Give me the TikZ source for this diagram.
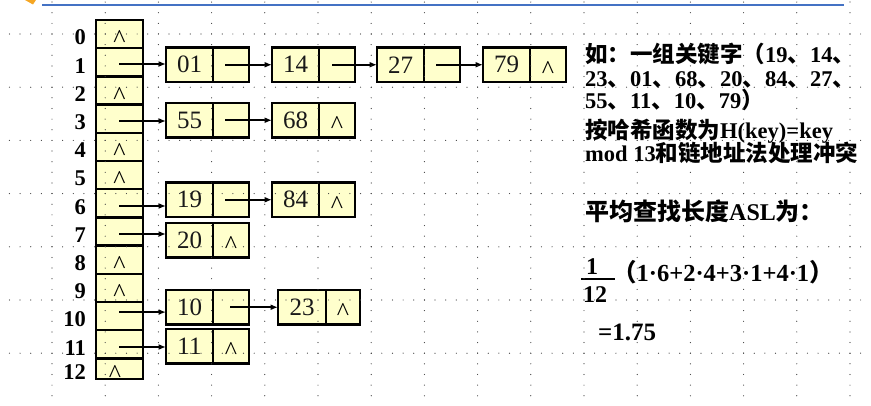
\documentclass[tikz,border=0pt]{standalone}
\usepackage{fontspec}
\setmainfont{Liberation Serif}
\newfontfamily\cjk{Noto Sans CJK SC}
\usetikzlibrary{arrows.meta}
\definecolor{cellfill}{HTML}{FFFFCC}
\definecolor{slideblue}{HTML}{4472C4}
\definecolor{slideorange}{HTML}{F5A623}
\newcommand\zh[1]{{\cjk\bfseries #1}}
\newcommand\lnode[4]{%
  \node[kbox, anchor=north west] (#1k) at (#2,#3) {#4};
  \node[pbox, anchor=north west] (#1p) at (#2+47,#3) {};}
\newcommand\lnodeB[4]{%
  \node[kbox, anchor=north west, minimum width=48pt] (#1k) at (#2,#3) {#4};
  \node[pbox, anchor=north west, minimum width=34pt] (#1p) at (#2+48,#3) {};}
\begin{document}
\begin{tikzpicture}[x=1pt,y=-1pt,
  cellbase/.style={draw=black, fill=cellfill, line width=2.4pt, inner sep=0pt, outer sep=0pt},
  tcell/.style={cellbase, minimum width=47pt},
  kbox/.style={cellbase, minimum width=47pt, minimum height=34.5pt,
    font=\fontsize{25}{25}\selectfont, text=black!90},
  pbox/.style={cellbase, minimum width=36pt, minimum height=34.5pt},
  nul/.style={inner sep=0pt, yshift=-5pt, font=\fontsize{26}{26}\selectfont},
  idx/.style={anchor=east, inner sep=0pt, font=\fontsize{22.5}{22.5}\selectfont\bfseries},
  arr/.style={draw=black, line width=2pt, -{Latex[length=7.5pt,width=6pt]}},
  rtext/.style={anchor=base west, inner sep=0pt, font=\fontsize{22.5}{22.5}\selectfont\bfseries},
  rbig/.style={rtext, font=\fontsize{24}{24}\selectfont\bfseries},
  frac/.style={inner sep=0pt, font=\fontsize{24}{24}\selectfont\bfseries},
  dotc/.style={fill=black!75}
]
\useasboundingbox (0,0) rectangle (871,406);
\fill[white] (0,0) rectangle (871,406);
% slide decorations
\fill[slideorange] (25,0) -- (36,0) -- (33,4.5) -- cycle;
\draw[slideblue, line width=2.2pt] (42,5) -- (844,5);

% hash table
\foreach \i in {0,...,11}{
  \node[tcell, minimum height=28.2pt] (t\i) at (119.5,{34.1+28.2*\i}) {};
  \node[idx] (l\i) at (86,{37.6+28.2*\i}) {\i};
}
\node[tcell, minimum height=20.6pt] (t12) at (119.5,368.7) {};
\node[idx] (l12) at (86,372.5) {12};
\foreach \i in {0,2,4,5,8,9}{
  \node[nul] (n\i) at (t\i.center) {\textasciicircum};
}
\node[nul] (n12) at (115,368.7) {\textasciicircum};

% chain nodes
\lnode{a}{166}{47.5}{01}
\lnode{b}{272}{47.5}{14}
\lnode{c}{377}{47.5}{27}
\lnode{d}{483}{47.5}{79}
\lnode{e}{166}{103}{55}
\lnode{f}{272}{103}{68}
\lnode{g}{166}{182.5}{19}
\lnode{h}{272}{182.5}{84}
\lnode{i}{166}{223}{20}
\lnode{j}{166}{290}{10}
\lnodeB{k}{278}{290}{23}
\lnode{m}{166}{329}{11}
\foreach \p in {d,f,h,i,k,m}{
  \node[nul] (z\p) at (\p p.center) {\textasciicircum};
}

% arrows from table
\path (t1.center) ++(-0.5,1.7) coordinate (s1);
\path (t3.center) ++(-0.5,2.3) coordinate (s3);
\path (t6.center) ++(-0.5,2.7) coordinate (s6);
\path (t7.center) ++(-0.5,2.5) coordinate (s7);
\path (t10.center) ++(-0.5,-4) coordinate (s10);
\path (t11.center) ++(-0.5,2.7) coordinate (s11);
\draw[arr] (s1) -- (s1 -| ak.west);
\draw[arr] (s3) -- (s3 -| ek.west);
\draw[arr] (s6) -- (s6 -| gk.west);
\draw[arr] (s7) -- (s7 -| ik.west);
\draw[arr] (s10) -- (s10 -| jk.west);
\draw[arr] (s11) -- (s11 -| mk.west);

% chain arrows
\draw[arr] ([xshift=-6pt]ap.center) -- (bk.west);
\draw[arr] ([xshift=-5pt]bp.center) -- (ck.west);
\draw[arr] ([xshift=-6pt]cp.center) -- (dk.west);
\draw[arr] ([xshift=-6pt]ep.center) -- (fk.west);
\draw[arr] ([xshift=-6pt]gp.center) -- (hk.west);
\draw[arr] ([xshift=-1pt]jp.center) -- (kk.west);

% right-hand text
\node[rtext] (r1) at (585,62.4) {\zh{如：一组关键字（}19\zh{、}14\zh{、}};
\node[rtext] (r2) at (585,86.4) {23\zh{、}01\zh{、}68\zh{、}20\zh{、}84\zh{、}27\zh{、}};
\node[rtext] (r3) at (585,108.4) {55\zh{、}11\zh{、}10\zh{、}79\zh{）}};
\node[rtext] (r4) at (585,138.4) {\zh{按哈希函数为}H(key)=key};
\node[rtext] (r5) at (585,161.4) {mod 13\zh{和链地址法处理冲突}};
\node[rbig] (asl) at (585,221) {\zh{平均查找长度}ASL\zh{为：}};
\node[frac] (fnum) at (592,267) {1};
\node[frac] (fden) at (595,294.5) {12};
\draw[line width=2pt] (581,279) -- (615,279);
\node[rtext, font=\fontsize{24.5}{24.5}\selectfont\bfseries] (expr) at (612,282) {\zh{（}1·6+2·4+3·1+4·1\zh{）}};
\node[rtext, font=\fontsize{25}{25}\selectfont\bfseries] (res) at (598,340.5) {=1.75};

% dotted grid overlay
\foreach \gx in {0,...,15}{
  \foreach \j in {-3,...,34}{
    \fill[dotc] ({52+53.2*\gx},{34+10.64*\j}) circle (0.6pt);
  }
}
\foreach \gy in {0,...,6}{
  \foreach \j in {-4,...,76}{
    \fill[dotc] ({52+10.64*\j},{34+53.2*\gy}) circle (0.6pt);
  }
}
\end{tikzpicture}
\end{document}
